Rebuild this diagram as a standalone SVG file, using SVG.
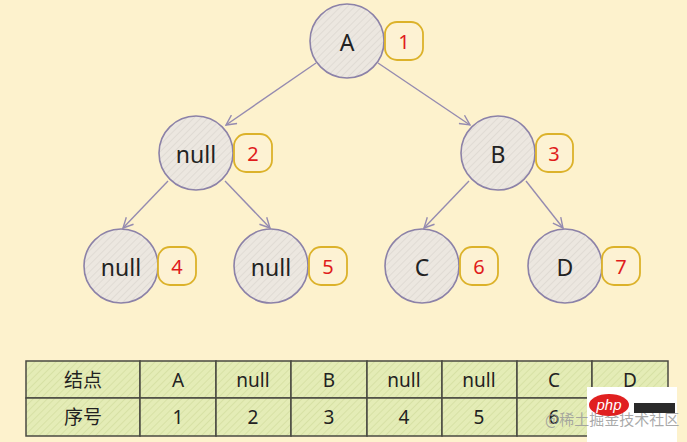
<svg xmlns="http://www.w3.org/2000/svg" width="687" height="442" viewBox="0 0 687 442">
<defs>
<pattern id="hc" patternUnits="userSpaceOnUse" width="5" height="5" patternTransform="rotate(45)">
<rect width="5" height="5" fill="#ece7e0"/>
<line x1="0" y1="0" x2="0" y2="5" stroke="#d9d3cc" stroke-width="1.2"/>
</pattern>
<pattern id="ht" patternUnits="userSpaceOnUse" width="5" height="5" patternTransform="rotate(45)">
<rect width="5" height="5" fill="#e4ecb6"/>
<line x1="0" y1="0" x2="0" y2="5" stroke="#cfdb9a" stroke-width="1.2"/>
</pattern>
<marker id="arr" viewBox="0 0 12 12" refX="11" refY="6" markerWidth="12" markerHeight="12" markerUnits="userSpaceOnUse" orient="auto">
<path d="M1,1 L11,6 L1,11" fill="none" stroke="#958bb0" stroke-width="1.4"/>
</marker>
</defs>
<style>
.node circle{fill:url(#hc);stroke:#8c82a8;stroke-width:1.6}
.badge rect{fill:#fdf2d3;stroke:#dcb22a;stroke-width:1.8}
.lbl{font-family:"Noto Sans","Liberation Sans",sans-serif;font-size:23px;fill:#222;text-anchor:middle;dominant-baseline:central}
.num{font-family:"Noto Sans","Liberation Sans",sans-serif;font-size:20px;fill:#e01c1c;text-anchor:middle;dominant-baseline:central}
.edge line{stroke:#958bb0;stroke-width:1.4;marker-end:url(#arr)}
.cell{fill:url(#ht);stroke:#4a4a42;stroke-width:1.5}
.tt{font-family:"Noto Sans","Liberation Sans","Noto Sans CJK SC",sans-serif;font-size:19px;fill:#222;text-anchor:middle;dominant-baseline:central}
</style>
<rect width="687" height="442" fill="#fdf2cd"/>
<g id="connectors" class="edge">
<line x1="316" y1="63" x2="226" y2="125"/>
<line x1="378" y1="63" x2="470" y2="125"/>
<line x1="168" y1="181" x2="123" y2="228"/>
<line x1="225" y1="181" x2="270" y2="228"/>
<line x1="469" y1="181" x2="424" y2="228"/>
<line x1="526" y1="181" x2="563" y2="228"/>
</g>
<g id="node-A" class="node"><circle cx="347" cy="41" r="37"/><text class="lbl" x="347" y="42">A</text></g>
<g id="badge-1" class="badge"><rect x="385" y="22" width="38" height="38" rx="12"/><text class="num" x="404" y="41">1</text></g>
<g id="node-2" class="node"><circle cx="196" cy="153" r="37"/><text class="lbl" x="196" y="154">null</text></g>
<g id="badge-2" class="badge"><rect x="234" y="134" width="38" height="38" rx="12"/><text class="num" x="253" y="153">2</text></g>
<g id="node-B" class="node"><circle cx="498" cy="153" r="37"/><text class="lbl" x="498" y="154">B</text></g>
<g id="badge-3" class="badge"><rect x="536" y="134" width="37" height="38" rx="12"/><text class="num" x="554" y="153">3</text></g>
<g id="node-4" class="node"><circle cx="121" cy="266" r="37"/><text class="lbl" x="121" y="267">null</text></g>
<g id="badge-4" class="badge"><rect x="158" y="247" width="38" height="38" rx="12"/><text class="num" x="177" y="266">4</text></g>
<g id="node-5" class="node"><circle cx="271" cy="266" r="37"/><text class="lbl" x="271" y="267">null</text></g>
<g id="badge-5" class="badge"><rect x="309" y="247" width="38" height="38" rx="12"/><text class="num" x="328" y="266">5</text></g>
<g id="node-C" class="node"><circle cx="422" cy="266" r="37"/><text class="lbl" x="422" y="267">C</text></g>
<g id="badge-6" class="badge"><rect x="460" y="247" width="38" height="38" rx="12"/><text class="num" x="479" y="266">6</text></g>
<g id="node-D" class="node"><circle cx="565" cy="266" r="37"/><text class="lbl" x="565" y="267">D</text></g>
<g id="badge-7" class="badge"><rect x="602" y="247" width="38" height="38" rx="12"/><text class="num" x="621" y="266">7</text></g>
<g id="table">
<rect class="cell" x="26" y="361" width="114" height="37"/>
<rect class="cell" x="140" y="361" width="76" height="37"/>
<rect class="cell" x="216" y="361" width="75" height="37"/>
<rect class="cell" x="291" y="361" width="76" height="37"/>
<rect class="cell" x="367" y="361" width="75" height="37"/>
<rect class="cell" x="442" y="361" width="75" height="37"/>
<rect class="cell" x="517" y="361" width="75" height="37"/>
<rect class="cell" x="592" y="361" width="76" height="37"/>
<rect class="cell" x="26" y="398" width="114" height="38"/>
<rect class="cell" x="140" y="398" width="76" height="38"/>
<rect class="cell" x="216" y="398" width="75" height="38"/>
<rect class="cell" x="291" y="398" width="76" height="38"/>
<rect class="cell" x="367" y="398" width="75" height="38"/>
<rect class="cell" x="442" y="398" width="75" height="38"/>
<rect class="cell" x="517" y="398" width="75" height="38"/>
<rect class="cell" x="592" y="398" width="76" height="38"/>
<text class="tt" x="83" y="380">结点</text>
<text class="tt" x="178" y="380">A</text>
<text class="tt" x="253" y="380">null</text>
<text class="tt" x="329" y="380">B</text>
<text class="tt" x="404" y="380">null</text>
<text class="tt" x="479" y="380">null</text>
<text class="tt" x="554" y="380">C</text>
<text class="tt" x="630" y="380">D</text>
<text class="tt" x="83" y="417">序号</text>
<text class="tt" x="178" y="417">1</text>
<text class="tt" x="253" y="417">2</text>
<text class="tt" x="329" y="417">3</text>
<text class="tt" x="404" y="417">4</text>
<text class="tt" x="479" y="417">5</text>
<text class="tt" x="554" y="417">6</text>
</g>
<g id="watermark">
<rect x="587" y="387" width="90" height="55" fill="#ffffff"/>
<text x="545" y="425" font-family="'Noto Sans CJK SC',sans-serif" font-size="15" fill="#9a9a9a" fill-opacity="0.85">@稀土掘金技术社区</text>
<ellipse cx="609" cy="405" rx="20" ry="11" fill="#e02020"/>
<text x="609" y="410" font-family="'Liberation Sans',sans-serif" font-size="15" font-style="italic" fill="#ffffff" text-anchor="middle">php</text>
<rect x="634" y="403" width="41" height="10" fill="#2a2a2a"/>
</g>
</svg>
